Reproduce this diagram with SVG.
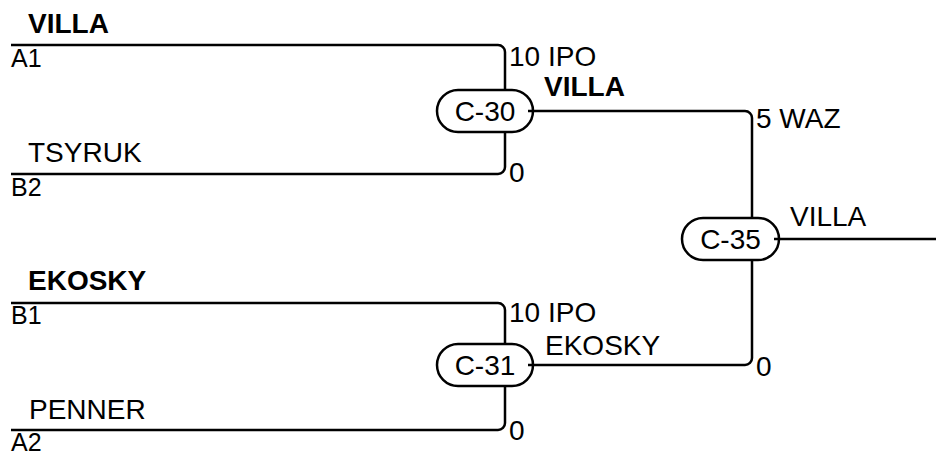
<svg xmlns="http://www.w3.org/2000/svg" width="936" height="455" viewBox="0 0 936 455">
<style>
text{font-family:"Liberation Sans",Arial,sans-serif;font-size:28px;fill:#000}
.b{font-weight:bold}
.c{text-anchor:middle}
.s{font-size:25px}
.pill{fill:#fff;stroke:#000;stroke-width:2.5}
.ln{fill:none;stroke:#000;stroke-width:2.5}
</style>
<rect width="936" height="455" fill="#fff"/>
<g id="labels">
<text class="b" x="28" y="33">VILLA</text>
<text class="s" x="11" y="67">A1</text>
<text x="28" y="162">TSYRUK</text>
<text class="s" x="11" y="196">B2</text>
<text class="b" x="28" y="290">EKOSKY</text>
<text class="s" x="11" y="324">B1</text>
<text x="29" y="419">PENNER</text>
<text class="s" x="11" y="451">A2</text>
<text x="509" y="66">10 IPO</text>
<text class="b" x="544" y="96">VILLA</text>
<text x="509" y="182">0</text>
<text x="756" y="128">5 WAZ</text>
<text x="790" y="226">VILLA</text>
<text x="509" y="322">10 IPO</text>
<text x="545" y="355">EKOSKY</text>
<text x="756" y="376">0</text>
<text x="509" y="440">0</text>
</g>
<g id="C-30"><rect class="pill" x="437" y="90" width="96" height="42" rx="21"/><text class="c" x="485" y="121">C-30</text></g>
<g id="C-35"><rect class="pill" x="682" y="218" width="97" height="42" rx="21"/><text class="c" x="730.5" y="249">C-35</text></g>
<g id="C-31"><rect class="pill" x="437" y="344" width="96" height="42" rx="21"/><text class="c" x="485" y="375">C-31</text></g>
<g id="connectors" class="ln">
<path d="M11,45 H498 A7,7 0 0 1 505,52 V90"/>
<path d="M11,174 H498 A7,7 0 0 0 505,167 V132"/>
<path d="M528,111 H745 A7,7 0 0 1 752,118 V218"/>
<path d="M752,260 V358 A7,7 0 0 1 745,365 H528"/>
<path d="M11,303 H498 A7,7 0 0 1 505,310 V344"/>
<path d="M11,430 H498 A7,7 0 0 0 505,423 V386"/>
<path d="M774,239 H936"/>
</g>
</svg>
